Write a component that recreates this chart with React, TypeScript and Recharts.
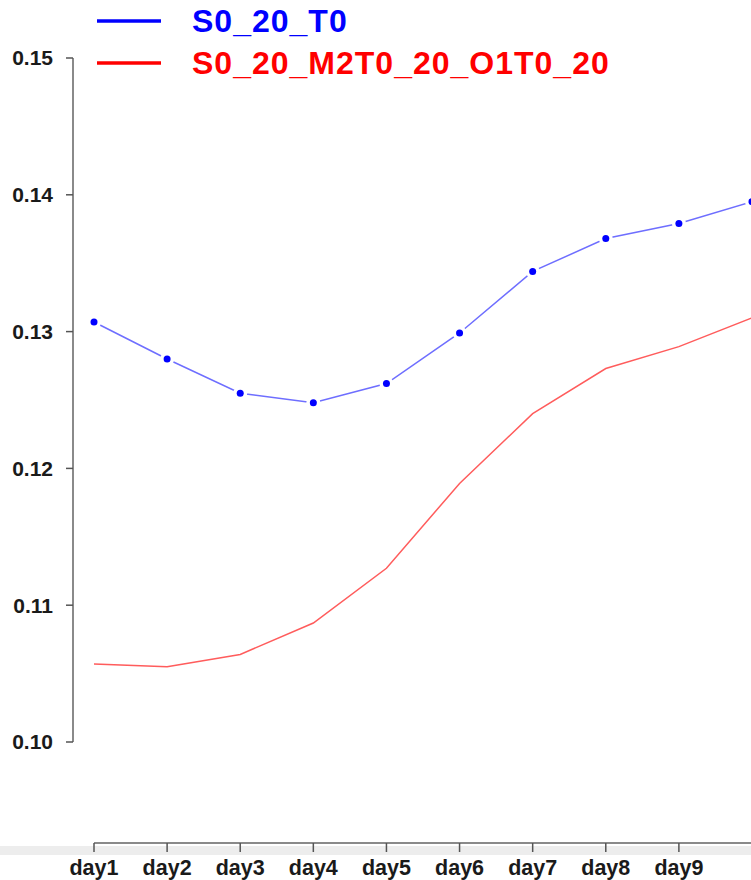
import { Legend, Line, LineChart, XAxis, YAxis } from "recharts";

const days = ["day1", "day2", "day3", "day4", "day5", "day6", "day7", "day8", "day9", "day10"];
const s0_20_T0 = [0.1307, 0.128, 0.1255, 0.1248, 0.1262, 0.1299, 0.1344, 0.1368, 0.1379, 0.1395];
const s0_20_M2 = [0.1057, 0.1055, 0.1064, 0.1087, 0.1127, 0.1189, 0.124, 0.1273, 0.1289, 0.131];
const yTicks = [0.1, 0.11, 0.12, 0.13, 0.14, 0.15];
const seriesNames = ["S0_20_T0", "S0_20_M2T0_20_O1T0_20"];
const seriesColors = ["#0000ff", "#ff0000"];

const data = days.map((day, i) => ({
  day,
  [seriesNames[0]]: s0_20_T0[i],
  [seriesNames[1]]: s0_20_M2[i],
}));

const FONT = '"Liberation Sans", Arial, Helvetica, sans-serif';

const GapDot = (props: any) => {
  const { cx, cy, index } = props;
  if (cx == null || cy == null) return null;
  return (
    <g key={`dot-${index}`}>
      <circle cx={cx} cy={cy} r={7} fill="#ffffff" />
      <circle cx={cx} cy={cy} r={3.5} fill="#0000ff" />
    </g>
  );
};

const DayTick = (props: any) => {
  const { x, y, payload, index } = props;
  // last label falls past the right edge of the picture
  if (index === days.length - 1) return null;
  return (
    <text x={x} y={y} dy="0.71em" textAnchor="middle" fontFamily={FONT} fontWeight={700} fontSize={21.5} fill="#1a1a1a">
      {payload.value}
    </text>
  );
};

const renderLegend = (props: any) => {
  const payload = [...(props.payload || [])].sort(
    (a: any, b: any) => seriesNames.indexOf(a.value) - seriesNames.indexOf(b.value)
  );
  return (
    <div style={{ position: "absolute", left: 97, top: 0 }}>
      {payload.map((entry: any) => {
        const c = seriesColors[seriesNames.indexOf(entry.value)] || entry.color;
        return (
          <div key={entry.value} style={{ display: "flex", alignItems: "center", height: 42, whiteSpace: "nowrap" }}>
            <svg width={64} height={6} style={{ marginRight: 31 }}>
              <line x1={0} y1={3} x2={64} y2={3} stroke={c} strokeWidth={3.5} />
            </svg>
            <span style={{ fontFamily: FONT, fontWeight: 700, fontSize: 32, letterSpacing: 1, color: c }}>
              {entry.value}
            </span>
          </div>
        );
      })}
    </div>
  );
};

export default function App() {
  return (
    <div style={{ position: "absolute", left: 0, top: 0, width: 751, height: 880, overflow: "hidden", background: "#ffffff" }}>
      <div style={{ position: "absolute", left: 0, top: 846, width: 751, height: 9, background: "#ededed" }} />
      <div style={{ position: "absolute", left: 0, top: 0 }}>
        <LineChart width={760} height={880} data={data} margin={{ top: 58, right: 8, left: 0, bottom: 0 }}>
          <XAxis
            dataKey="day"
            scale="point"
            padding={{ left: 21, right: 0 }}
            height={37}
            interval={0}
            tickSize={9}
            tickMargin={8}
            axisLine={{ stroke: "#8a8a8a", strokeWidth: 2, strokeDasharray: "0 21 4000" }}
            tickLine={{ stroke: "#555555", strokeWidth: 1.5 }}
            tick={<DayTick />}
          />
          <YAxis
            type="number"
            domain={[0.1, 0.15]}
            ticks={yTicks}
            padding={{ top: 0, bottom: 101 }}
            width={73}
            tickSize={7}
            tickMargin={13}
            allowDataOverflow
            axisLine={{ stroke: "#8a8a8a", strokeWidth: 2, strokeDasharray: "684 4000" }}
            tickLine={{ stroke: "#555555", strokeWidth: 1.5 }}
            tick={{ fontFamily: FONT, fontWeight: 700, fontSize: 21, fill: "#1a1a1a" }}
            tickFormatter={(v: number) => v.toFixed(2)}
          />
          <Legend layout="vertical" align="left" verticalAlign="top" wrapperStyle={{ top: 0, left: 0 }} content={renderLegend} />
          <Line
            type="linear"
            dataKey={seriesNames[1]}
            stroke="#ff5c5c"
            strokeWidth={1.5}
            dot={false}
            activeDot={false}
            isAnimationActive={false}
          />
          <Line
            type="linear"
            dataKey={seriesNames[0]}
            stroke="#6e6eff"
            strokeWidth={1.5}
            dot={<GapDot />}
            activeDot={false}
            isAnimationActive={false}
          />
        </LineChart>
      </div>
    </div>
  );
}
